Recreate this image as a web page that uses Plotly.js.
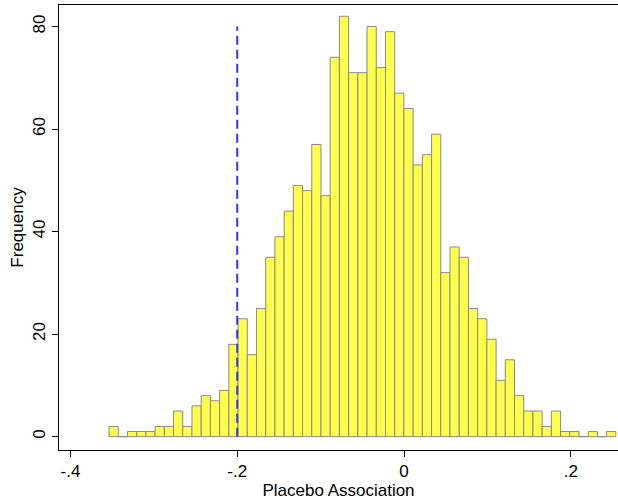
<!DOCTYPE html>
<html>
<head>
<meta charset="utf-8">
<script src="https://cdn.plot.ly/plotly-3.0.1.min.js"></script>
<style>html,body{margin:0;padding:0;background:#fff;}#chart{width:618px;height:500px;}</style>
</head>
<body>
<div id="chart"></div>
<script>
// Histogram of placebo associations (55 bins)
const binStart = -0.3537;
const binWidth = 0.01105;
const counts = [2,0,1,1,1,2,2,5,2,6,8,7,9,18,23,16,25,35,39,44,49,48,57,47,74,82,71,71,80,72,79,67,64,53,55,59,32,37,35,25,23,19,11,15,8,5,5,2,5,1,1,0,1,0,1];
const refLineX = [-0.2, -0.2];
const refLineY = [0, 80];
const xTickVals = [-0.4, -0.2, 0, 0.2];
const xTickText = ["-.4", "-.2", "0", ".2"];
const yTickVals = [0, 20, 40, 60, 80];

const centers = counts.map((c, i) => binStart + (i + 0.5) * binWidth);

const font = {family: "Liberation Sans, Arial, sans-serif", color: "#000", size: 17};

const traces = [
  {
    type: "bar",
    x: centers,
    y: counts,
    width: binWidth,
    marker: {color: "#ffff4c", line: {color: "#8a8a8a", width: 1}},
    hoverinfo: "x+y"
  },
  {
    type: "scatter",
    mode: "lines",
    x: refLineX,
    y: refLineY,
    line: {color: "#3333ff", width: 2, dash: "9px,5px"}
  }
];

const layout = {
  width: 618, height: 500,
  margin: {l: 59, r: 0, t: 5, b: 50},
  paper_bgcolor: "#fff", plot_bgcolor: "#fff",
  showlegend: false,
  bargap: 0,
  font: font,
  xaxis: {
    range: [-0.4137, 0.2566],
    tickvals: xTickVals, ticktext: xTickText,
    ticks: "outside", ticklen: 6, tickcolor: "#000", tickwidth: 1,
    showline: true, linecolor: "#000", linewidth: 1, mirror: true,
    showgrid: false, zeroline: false,
    tickfont: {size: 17},
    title: {text: "Placebo Association", font: {size: 17}, standoff: 4},
    automargin: false
  },
  yaxis: {
    range: [-2.6, 84.2],
    tickvals: yTickVals,
    ticks: "outside", ticklen: 6, tickcolor: "#000", tickwidth: 1,
    tickangle: -90,
    showline: true, linecolor: "#000", linewidth: 1,
    showgrid: false, zeroline: false,
    tickfont: {size: 17},
    title: {text: "Frequency", font: {size: 17}, standoff: 2},
    automargin: false
  }
};

Plotly.newPlot("chart", traces, layout, {staticPlot: true, displayModeBar: false});
</script>
</body>
</html>
